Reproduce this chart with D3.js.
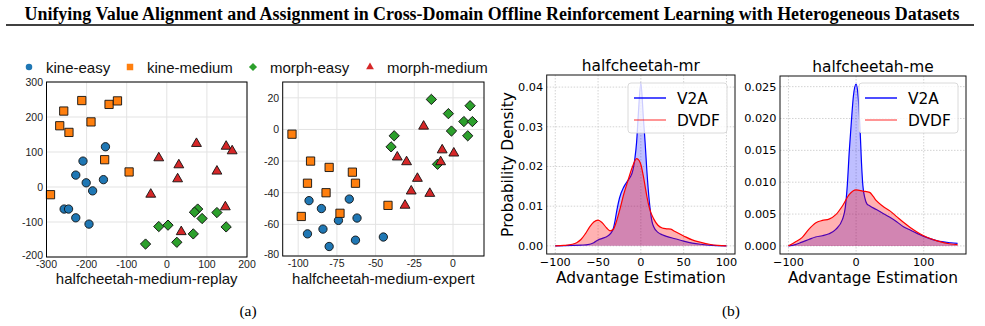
<!DOCTYPE html>
<html>
<head>
<meta charset="utf-8">
<script src="https://cdn.jsdelivr.net/npm/d3@7"></script>
<style>
  body { margin: 0; background: #fff; }
  svg { display: block; }
</style>
</head>
<body>
<div id="chart"></div>
<script>
// ---- data ----
const seriesNames = ["kine-easy", "kine-medium", "morph-easy", "morph-medium"];
const seriesColors = ["#1f77b4", "#ff7f0e", "#2ca02c", "#d62728"];

// halfcheetah-medium-replay  [x, y]
const replayKineEasy = [[-153,115],[-209,74],[-227,34],[-201,12],[-185,-11],[-158,21],[-256,-63],[-245,-63],[-227,-88],[-194,-106]];
const replayKineMedium = [[-212,247],[-257,217],[-267,175],[-244,156],[-189,186],[-144,236],[-123,246],[-155,78],[-94,43],[-290,-22]];
const replayMorphEasy = [[77,-63],[69,-72],[88,-90],[125,-73],[148,-114],[-20,-113],[3,-109],[25,-158],[66,-134],[-53,-163]];
const replayMorphMedium = [[74,124],[-20,83],[30,63],[27,23],[-40,-21],[36,-128],[125,45],[148,116],[163,103],[146,-57]];

// halfcheetah-medium-expert  [x, y]
const expertKineEasy = [[-93,-45],[-85,-50],[-67,-44],[-74,-57.5],[-62,-56],[-94,-66],[-84,-63],[-80,-74],[-63,-70],[-45,-68]];
const expertKineMedium = [[-104,-3],[-92,-20],[-80,-24],[-65,-27],[-63,-34],[-94,-34],[-82,-40],[-98,-55],[-73,-53],[-42,-48]];
const expertMorphEasy = [[-14,19],[-3,10],[11,15],[7,5],[12.5,5],[-1,-1],[9.5,-4],[-38,-4],[-40,-11],[-10,-22]];
const expertMorphMedium = [[-19,2],[-7,-13],[0.5,-15],[-8,-20.5],[-36,-17.5],[-30,-20.5],[-23,-31],[-27,-39],[-15,-40.5],[-31,-48]];

// tick labels
const replayXTicks = [-300, -200, -100, 0, 100, 200];
const replayYTicks = [-200, -100, 0, 100, 200, 300];
const expertXTicks = [-100, -75, -50, -25, 0];
const expertYTicks = [-80, -60, -40, -20, 0, 20];

// density curves [advantage, density]
const mrV2A = [[-100,0],[-80,0.0001],[-70,0.0002],[-62,0.0003],[-55,0.0008],[-50,0.0015],[-45,0.0019],[-40,0.0023],[-35,0.0032],[-32,0.0045],[-30,0.0065],[-28,0.009],[-25,0.012],[-20,0.0148],[-15,0.0165],[-12,0.0175],[-10,0.0185],[-7,0.022],[-5,0.026],[-3,0.033],[0,0.041],[3,0.032],[5,0.026],[7,0.019],[10,0.011],[13,0.0062],[15,0.0048],[20,0.0034],[25,0.0028],[30,0.0024],[40,0.0018],[50,0.0012],[60,0.0007],[70,0.0004],[80,0.0002],[100,0]];
const mrDVDF = [[-100,0],[-90,0.0001],[-80,0.0004],[-75,0.0008],[-70,0.0016],[-65,0.003],[-60,0.0047],[-55,0.006],[-50,0.0065],[-45,0.0058],[-40,0.0045],[-36,0.0038],[-32,0.0042],[-30,0.0052],[-25,0.0088],[-20,0.013],[-15,0.0165],[-10,0.0198],[-5,0.022],[-2,0.0215],[0,0.0205],[3,0.0175],[5,0.015],[7,0.0125],[10,0.0095],[15,0.0068],[20,0.0052],[25,0.0045],[30,0.0043],[35,0.0042],[40,0.0036],[50,0.0025],[60,0.0015],[70,0.0009],[80,0.0004],[90,0.0001],[100,0]];
const meV2A = [[-100,0],[-90,0.0002],[-80,0.0006],[-70,0.001],[-60,0.0014],[-50,0.0016],[-40,0.0019],[-30,0.0026],[-20,0.0042],[-16,0.006],[-13,0.0095],[-10,0.015],[-7,0.0195],[-4,0.0235],[0,0.0254],[3,0.0235],[6,0.018],[8,0.013],[10,0.0095],[13,0.0075],[16,0.0066],[20,0.0063],[30,0.0057],[40,0.0051],[50,0.0045],[60,0.0038],[70,0.003],[80,0.0025],[100,0.0015],[120,0.0008],[140,0.0005],[150,0.0004]];
const meDVDF = [[-100,0],[-90,0.0006],[-80,0.0013],[-70,0.0026],[-60,0.0036],[-50,0.004],[-40,0.0042],[-30,0.0049],[-20,0.0063],[-10,0.0081],[0,0.0088],[10,0.0086],[20,0.0084],[25,0.0078],[30,0.0071],[40,0.0062],[50,0.0055],[60,0.0046],[70,0.0037],[80,0.0029],[90,0.0022],[100,0.0016],[120,0.0008],[140,0.0003],[150,0.0002]];

const mrXTicks = [-100, -50, 0, 50, 100];
const mrYTicks = [0, 0.01, 0.02, 0.03, 0.04];
const meXTicks = [-100, 0, 100];
const meYTicks = [0, 0.005, 0.01, 0.015, 0.02, 0.025];

// ---- svg ----
const W = 985, H = 326;
const svg = d3.select("#chart").append("svg")
    .attr("width", W).attr("height", H)
    .attr("viewBox", `0 0 ${W} ${H}`);

svg.append("rect").attr("width", W).attr("height", H).attr("fill", "#fff");

// paper header
svg.append("text")
    .attr("x", 492).attr("y", 19.5)
    .attr("text-anchor", "middle")
    .attr("textLength", 935).attr("lengthAdjust", "spacingAndGlyphs")
    .style("font-family", "'Liberation Serif', 'Times New Roman', serif")
    .style("font-weight", "bold")
    .style("font-size", "18px")
    .text("Unifying Value Alignment and Assignment in Cross-Domain Offline Reinforcement Learning with Heterogeneous Datasets");

svg.append("line")
    .attr("x1", 6).attr("x2", 974).attr("y1", 25).attr("y2", 25)
    .attr("stroke", "#000").attr("stroke-width", 1.6);

// captions
[["(a)", 248], ["(b)", 731]].forEach(([t, x]) => {
  svg.append("text")
      .attr("x", x).attr("y", 315.5)
      .attr("text-anchor", "middle")
      .style("font-family", "'Liberation Serif', 'Times New Roman', serif")
      .style("font-size", "15.5px")
      .text(t);
});

// ---- scatter panels ----
const sansFont = "'Liberation Sans', Arial, Helvetica, sans-serif";

function markerPath(i, size) {
  if (i === 0) return d3.symbol().type(d3.symbolCircle).size(size * 0.8)();
  if (i === 1) return d3.symbol().type(d3.symbolSquare).size(size)();
  if (i === 2) return d3.symbol().type(d3.symbolSquare).size(size * 0.78)();
  return d3.symbol().type(d3.symbolTriangle).size(size * 0.62)();
}

function drawScatter(cfg) {
  const x = d3.scaleLinear().domain(cfg.xDomain).range([cfg.left, cfg.right]);
  const y = d3.scaleLinear().domain(cfg.yDomain).range([cfg.bottom, cfg.top]);
  const g = svg.append("g");

  // grid
  g.selectAll(".gx").data(cfg.xTicks).join("line")
      .attr("x1", d => x(d)).attr("x2", d => x(d))
      .attr("y1", cfg.top).attr("y2", cfg.bottom)
      .attr("stroke", "#e3e3e3").attr("stroke-width", 1);
  g.selectAll(".gy").data(cfg.yTicks).join("line")
      .attr("x1", cfg.left).attr("x2", cfg.right)
      .attr("y1", d => y(d)).attr("y2", d => y(d))
      .attr("stroke", "#e3e3e3").attr("stroke-width", 1);

  // points
  cfg.series.forEach((pts, i) => {
    g.selectAll(null).data(pts).join("path")
        .attr("d", markerPath(i, 68))
        .attr("transform", d => `translate(${x(d[0])},${y(d[1])})${i === 2 ? " rotate(45)" : ""}`)
        .attr("fill", seriesColors[i])
        .attr("stroke", "#111").attr("stroke-width", 0.9);
  });

  // frame
  g.append("rect")
      .attr("x", cfg.left).attr("y", cfg.top)
      .attr("width", cfg.right - cfg.left).attr("height", cfg.bottom - cfg.top)
      .attr("fill", "none").attr("stroke", "#000").attr("stroke-width", 1);

  // tick labels
  g.selectAll(".tx").data(cfg.xTicks).join("text")
      .attr("x", d => x(d)).attr("y", cfg.bottom + 10.5)
      .attr("text-anchor", "middle")
      .style("font-family", sansFont).style("font-size", "10.5px").attr("fill", "#222")
      .text(d => String(d));
  // lowest y label nudged up a little so it clears the first x label
  g.selectAll(".ty").data(cfg.yTicks).join("text")
      .attr("x", cfg.left - 3.5)
      .attr("y", (d, i) => y(d) + (i === 0 ? 1.5 : 3.8))
      .attr("text-anchor", "end")
      .style("font-family", sansFont).style("font-size", "10.5px").attr("fill", "#222")
      .text(d => String(d));

  g.append("text")
      .attr("x", (cfg.left + cfg.right) / 2).attr("y", 283.5)
      .attr("text-anchor", "middle")
      .style("font-family", sansFont).style("font-size", "15px").attr("fill", "#111")
      .text(cfg.xLabel);
}

drawScatter({
  left: 46.5, right: 247, top: 82, bottom: 257,
  xDomain: [-300, 200], yDomain: [-200, 300],
  xTicks: replayXTicks, yTicks: replayYTicks,
  series: [replayKineEasy, replayKineMedium, replayMorphEasy, replayMorphMedium],
  xLabel: "halfcheetah-medium-replay"
});

drawScatter({
  left: 282.7, right: 484, top: 82, bottom: 256,
  xDomain: [-110, 20], yDomain: [-80, 30],
  xTicks: expertXTicks, yTicks: expertYTicks,
  series: [expertKineEasy, expertKineMedium, expertMorphEasy, expertMorphMedium],
  xLabel: "halfcheetah-medium-expert"
});

// shared legend
const legendX = [29, 130, 253, 370];
seriesNames.forEach((name, i) => {
  svg.append("path")
      .attr("d", markerPath(i, 42))
      .attr("transform", `translate(${legendX[i]},67)${i === 2 ? " rotate(45)" : ""}`)
      .attr("fill", seriesColors[i]);
  svg.append("text")
      .attr("x", legendX[i] + 17).attr("y", 72.5)
      .style("font-family", sansFont).style("font-size", "15px").attr("fill", "#111")
      .text(name);
});

// ---- density panels ----
const mplFont = "'DejaVu Sans', sans-serif";

function drawDensity(cfg) {
  const x = d3.scaleLinear().domain(cfg.xDomain).range([cfg.left, cfg.right]);
  const y = d3.scaleLinear().domain(cfg.yDomain).range([cfg.bottom, cfg.top]);
  const g = svg.append("g");

  g.selectAll(".gx").data(cfg.xTicks).join("line")
      .attr("x1", d => x(d)).attr("x2", d => x(d))
      .attr("y1", cfg.top).attr("y2", cfg.bottom)
      .attr("stroke", "#c8c8c8").attr("stroke-width", 0.8).attr("stroke-dasharray", "1.5,1.5");
  g.selectAll(".gy").data(cfg.yTicks).join("line")
      .attr("x1", cfg.left).attr("x2", cfg.right)
      .attr("y1", d => y(d)).attr("y2", d => y(d))
      .attr("stroke", "#c8c8c8").attr("stroke-width", 0.8).attr("stroke-dasharray", "1.5,1.5");

  const area = d3.area().x(d => x(d[0])).y0(y(0)).y1(d => y(d[1])).curve(d3.curveMonotoneX);
  const line = d3.line().x(d => x(d[0])).y(d => y(d[1])).curve(d3.curveMonotoneX);

  g.append("path").attr("d", area(cfg.v2a)).attr("fill", "blue").attr("fill-opacity", 0.25);
  g.append("path").attr("d", line(cfg.v2a)).attr("fill", "none").attr("stroke", "blue").attr("stroke-width", 1.2);
  g.append("path").attr("d", area(cfg.dvdf)).attr("fill", "red").attr("fill-opacity", 0.3);
  g.append("path").attr("d", line(cfg.dvdf)).attr("fill", "none").attr("stroke", "red").attr("stroke-width", 1.2);

  g.append("rect")
      .attr("x", cfg.left).attr("y", cfg.top)
      .attr("width", cfg.right - cfg.left).attr("height", cfg.bottom - cfg.top)
      .attr("fill", "none").attr("stroke", "#111").attr("stroke-width", 1);

  g.selectAll(".tx").data(cfg.xTicks).join("text")
      .attr("x", d => x(d)).attr("y", cfg.bottom + 12)
      .attr("text-anchor", "middle")
      .style("font-family", mplFont).style("font-size", "11.3px")
      .text(d => d3.format("d")(d));
  g.selectAll(".ty").data(cfg.yTicks).join("text")
      .attr("x", cfg.left - 3.5).attr("y", d => y(d) + 4)
      .attr("text-anchor", "end")
      .style("font-family", mplFont).style("font-size", "11.3px")
      .text(d => d3.format(cfg.yFormat)(d));

  g.append("text")
      .attr("x", (cfg.left + cfg.right) / 2).attr("y", cfg.top - 4)
      .attr("text-anchor", "middle")
      .style("font-family", mplFont).style("font-size", "15.4px")
      .text(cfg.title);
  g.append("text")
      .attr("x", (cfg.left + cfg.right) / 2).attr("y", 283)
      .attr("text-anchor", "middle")
      .style("font-family", mplFont).style("font-size", "15.4px")
      .text("Advantage Estimation");

  if (cfg.yLabel) {
    g.append("text")
        .attr("transform", `translate(513,${(cfg.top + cfg.bottom) / 2}) rotate(-90)`)
        .attr("text-anchor", "middle")
        .style("font-family", mplFont).style("font-size", "15.4px")
        .text(cfg.yLabel);
  }

  // legend
  const lx = cfg.legendLeft, ly = 83;
  g.append("rect")
      .attr("x", lx).attr("y", ly).attr("width", 99).attr("height", 50).attr("rx", 3)
      .attr("fill", "#fff").attr("fill-opacity", 0.8)
      .attr("stroke", "#d0d0d0").attr("stroke-width", 0.8);
  [["V2A", "blue", 1, 15], ["DVDF", "red", 0.6, 37]].forEach(([name, col, op, dy]) => {
    g.append("line")
        .attr("x1", lx + 6).attr("x2", lx + 38)
        .attr("y1", ly + dy).attr("y2", ly + dy)
        .attr("stroke", col).attr("stroke-opacity", op).attr("stroke-width", 1.4);
    g.append("text")
        .attr("x", lx + 49).attr("y", ly + dy + 5.5)
        .style("font-family", mplFont).style("font-size", "15.4px")
        .text(name);
  });
}

drawDensity({
  left: 546.7, right: 735, top: 75, bottom: 254,
  xDomain: [-110, 110], yDomain: [-0.00205, 0.04305],
  xTicks: mrXTicks, yTicks: mrYTicks, yFormat: ".2f",
  v2a: mrV2A, dvdf: mrDVDF,
  title: "halfcheetah-mr", yLabel: "Probability Density",
  legendLeft: 628
});

drawDensity({
  left: 780, right: 966, top: 76, bottom: 254,
  xDomain: [-112.5, 162.5], yDomain: [-0.00127, 0.02667],
  xTicks: meXTicks, yTicks: meYTicks, yFormat: ".3f",
  v2a: meV2A, dvdf: meDVDF,
  title: "halfcheetah-me", yLabel: null,
  legendLeft: 859
});
</script>
</body>
</html>
